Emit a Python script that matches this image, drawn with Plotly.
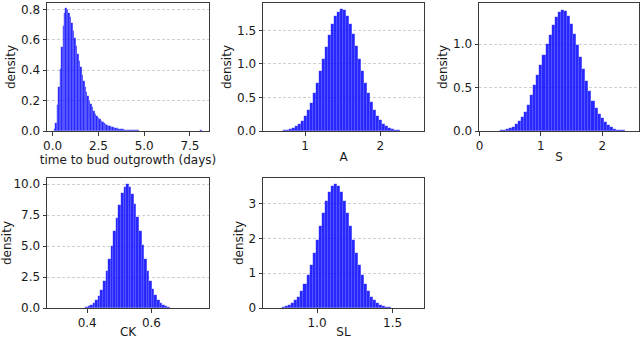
import numpy as np
import plotly.graph_objects as go

# --- data (histogram bin densities) ---
# panel 1: time to bud outgrowth, bins of 0.08 starting at centre 0.10
bud_start, bud_step = 0.10, 0.08
bud_density = [
    0.01, 0.05, 0.17, 0.29, 0.41, 0.55, 0.69, 0.78, 0.81, 0.80,
    0.78, 0.75, 0.71, 0.66, 0.61, 0.56, 0.51, 0.46, 0.42, 0.37,
    0.33, 0.29, 0.26, 0.23, 0.20, 0.175, 0.155, 0.135, 0.115, 0.10,
    0.088, 0.077, 0.068, 0.060, 0.052, 0.046, 0.040, 0.035, 0.031, 0.027,
    0.024, 0.021, 0.019, 0.017, 0.015, 0.013, 0.012, 0.010, 0.009, 0.008,
    0.007, 0.006, 0.006, 0.005, 0.005, 0.004, 0.004, 0.004, 0.003, 0.003,
    0.003, 0.003, 0.002, 0.002, 0.002, 0.002, 0.002, 0.002, 0.001, 0.001,
    0.001, 0.001, 0.001, 0.001, 0.001, 0.001, 0.001, 0.001, 0.001, 0.001,
    0.001, 0.001, 0.001, 0.001, 0.001, 0.0005, 0.0005, 0.0005, 0.0005, 0.0005,
    0.0005, 0, 0, 0, 0, 0, 0, 0, 0, 0,
    0.009,
]

# panel 2: A, bins of 0.04 starting at centre 0.64
a_start, a_step = 0.64, 0.04
a_density = [
    0.003, 0.006, 0.010, 0.017, 0.027, 0.044, 0.069, 0.105, 0.155, 0.22,
    0.31, 0.42, 0.56, 0.72, 0.89, 1.07, 1.25, 1.44, 1.59, 1.72,
    1.78, 1.82, 1.80, 1.71, 1.60, 1.45, 1.27, 1.08, 0.90, 0.72,
    0.57, 0.43, 0.32, 0.23, 0.16, 0.11, 0.072, 0.046, 0.028, 0.017,
    0.010, 0.006, 0.003,
]

# panel 3: S, bins of 0.05 starting at centre 0.30
s_start, s_step = 0.30, 0.05
s_density = [
    0.004, 0.007, 0.012, 0.020, 0.032, 0.050, 0.075, 0.11, 0.16, 0.22,
    0.30, 0.42, 0.53, 0.64, 0.76, 0.88, 1.00, 1.11, 1.22, 1.31,
    1.37, 1.40, 1.38, 1.32, 1.23, 1.12, 0.99, 0.85, 0.71, 0.58,
    0.46, 0.35, 0.27, 0.20, 0.15, 0.10, 0.068, 0.045, 0.028, 0.017,
    0.010, 0.006, 0.003,
]

# panel 4: CK, bins of 0.008 starting at centre 0.389
ck_start, ck_step = 0.389, 0.008
ck_density = [
    0.04, 0.08, 0.14, 0.24, 0.40, 0.65, 1.00, 1.49, 2.14, 2.96,
    3.93, 5.04, 6.21, 7.30, 8.35, 9.27, 9.80, 10.0, 9.75, 9.20,
    8.40, 7.35, 6.25, 5.05, 3.95, 2.98, 2.16, 1.50, 1.01, 0.66,
    0.41, 0.25, 0.14, 0.08, 0.04, 0.02, 0.01,
]

# panel 5: SL, bins of 0.02 starting at centre 0.78
sl_start, sl_step = 0.78, 0.02
sl_density = [
    0.030, 0.052, 0.087, 0.14, 0.22, 0.33, 0.48, 0.68, 0.94, 1.24,
    1.59, 1.97, 2.36, 2.74, 3.08, 3.34, 3.51, 3.57, 3.51, 3.34,
    3.08, 2.74, 2.36, 1.97, 1.59, 1.24, 0.94, 0.68, 0.48, 0.33,
    0.22, 0.14, 0.087, 0.052, 0.030, 0.017, 0.009, 0.005,
]

x_titles = ["time to bud outgrowth (days)", "A", "S", "CK", "SL"]

panels = [
    # (start, step, density, x px, y px, x range, y range, x ticks, x fmt, y ticks, y fmt)
    (bud_start, bud_step, bud_density, [47, 209], [3, 131], [-0.31, 8.54], [0, 0.843],
     [0, 2.5, 5, 7.5], ".1f", [0, 0.2, 0.4, 0.6, 0.8], ".1f"),
    (a_start, a_step, a_density, [263, 424], [3, 131], [0.44, 2.58], [0, 1.91],
     [1, 2], "d", [0, 0.5, 1.0, 1.5], ".1f"),
    (s_start, s_step, s_density, [479, 639], [3, 131], [-0.01, 2.6], [0, 1.475],
     [0, 1, 2], "d", [0, 0.5, 1.0], ".1f"),
    (ck_start, ck_step, ck_density, [47, 209], [178, 308], [0.275, 0.779], [0, 10.49],
     [0.4, 0.6], ".1f", [0, 2.5, 5, 7.5, 10], ".1f"),
    (sl_start, sl_step, sl_density, [263, 424], [178, 308], [0.642, 1.708], [0, 3.74],
     [1.0, 1.5], ".1f", [0, 1, 2, 3], "d"),
]

W, H = 640, 339
FONT = "DejaVu Sans"
TXT = dict(family=FONT, size=12, color="#1a1a1a")

fig = go.Figure()
layout = {}
for i, (start, step, dens, xd, yd, xr, yr, xt, xf, yt, yf) in enumerate(panels):
    n = "" if i == 0 else str(i + 1)
    centres = start + step * np.arange(len(dens))
    fig.add_trace(go.Bar(
        x=centres, y=dens, width=step,
        marker=dict(color="rgba(0,0,255,0.85)",
                    line=dict(color="rgba(255,255,255,0.18)", width=0.4)),
        xaxis="x" + n, yaxis="y" + n, showlegend=False,
    ))
    common = dict(
        showline=True, linecolor="#3a3a3a", linewidth=1, mirror=True,
        ticks="outside", ticklen=3.5, tickcolor="#3a3a3a", tickwidth=1,
        tickfont=TXT, zeroline=False, layer="above traces", automargin=False,
    )
    layout["xaxis" + n] = dict(
        common, domain=[xd[0] / W, xd[1] / W], range=xr, anchor="y" + n,
        tickvals=xt, tickformat=xf, showgrid=False,
        title=dict(text=x_titles[i], font=TXT, standoff=0),
    )
    layout["yaxis" + n] = dict(
        common, domain=[1 - yd[1] / H, 1 - yd[0] / H], range=yr, anchor="x" + n,
        tickvals=yt, tickformat=yf, showgrid=True, gridcolor="#cfcfcf",
        gridwidth=0.8, griddash="3px,2px",
        title=dict(text="density", font=TXT, standoff=2),
    )

fig.update_layout(
    width=W, height=H, margin=dict(l=0, r=0, t=0, b=0),
    paper_bgcolor="white", plot_bgcolor="white", bargap=0,
    **layout,
)
# drop the page's default body margin so the figure fills the window exactly
fig.write_html(
    "out.html",
    config={"displayModeBar": False},
    post_script="document.body.style.margin='0px';",
)
